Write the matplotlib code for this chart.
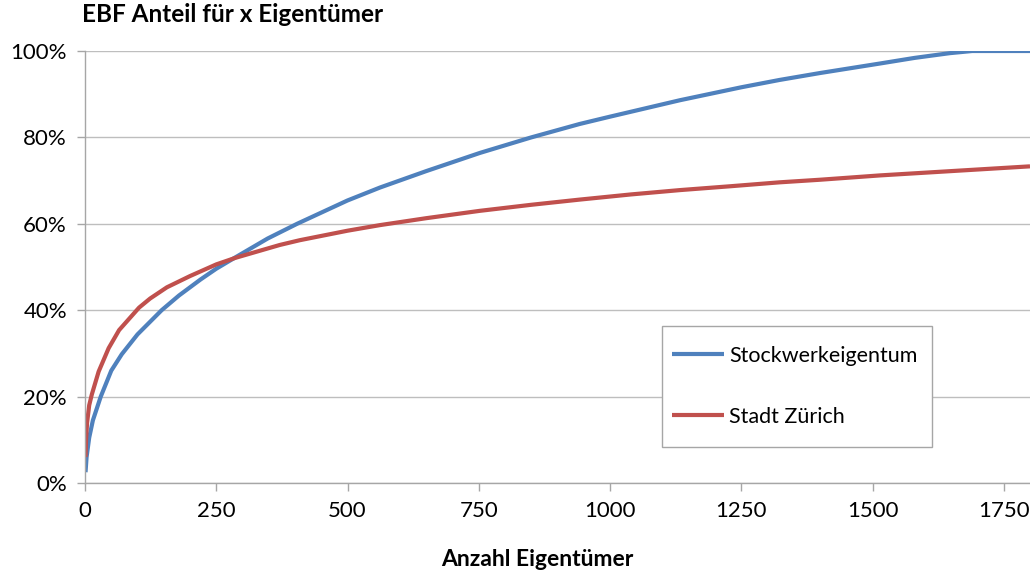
import matplotlib
matplotlib.use("Agg")
import matplotlib.pyplot as plt
from matplotlib.patches import Rectangle
from matplotlib.ticker import FuncFormatter

plt.rcParams['font.family'] = ['Lato', 'DejaVu Sans']

# Stockwerkeigentum (blau)
x_stwe = [1, 3, 8, 15, 30, 50, 70, 100, 146, 179, 220, 250, 286, 348, 404,
          500, 562, 650, 752, 850, 942, 1000, 1133, 1250, 1323, 1400, 1457,
          1514, 1580, 1647, 1690, 1800]
y_stwe = [2.5, 6.0, 10.5, 14.5, 20.0, 26.0, 29.8, 34.4, 40.0, 43.4, 47.1,
          49.6, 52.2, 56.6, 60.0, 65.4, 68.4, 72.2, 76.4, 80.0, 83.1, 84.8,
          88.6, 91.6, 93.3, 94.9, 96.0, 97.1, 98.4, 99.5, 100.0, 100.0]

# Stadt Zürich (rot)
x_stz = [1, 2, 4, 8, 13, 26, 45, 65, 103, 124, 156, 200, 250, 286, 371, 409,
         500, 562, 650, 752, 850, 942, 1040, 1133, 1230, 1323, 1400, 1457,
         1514, 1650, 1800]
y_stz = [6.0, 10.0, 14.0, 18.0, 20.5, 25.8, 31.2, 35.4, 40.6, 42.7, 45.3,
         47.9, 50.6, 52.1, 55.1, 56.2, 58.4, 59.7, 61.3, 63.0, 64.4, 65.6,
         66.8, 67.8, 68.7, 69.6, 70.2, 70.7, 71.2, 72.2, 73.3]

fig = plt.figure(figsize=(10.3, 5.74), dpi=100)
ax = fig.add_axes([85 / 1030, 1 - 483 / 574, 1 - 85 / 1030, (483 - 51) / 574])

ax.plot(x_stwe, [v / 100 for v in y_stwe], color='#4F81BD', lw=3,
        label='Stockwerkeigentum', solid_capstyle='butt')
ax.plot(x_stz, [v / 100 for v in y_stz], color='#C0504D', lw=3,
        label='Stadt Zürich', solid_capstyle='butt')

ax.set_xlim(0, 1800)
ax.set_ylim(0, 1)
ax.set_xticks(range(0, 1751, 250))
ax.set_yticks([0, 0.2, 0.4, 0.6, 0.8, 1.0])
ax.yaxis.set_major_formatter(FuncFormatter(lambda v, p: f"{v * 100:.0f}%"))

ax.grid(axis='y', color='#BEBEBE', lw=1)
ax.set_axisbelow(True)
for s in ['top', 'right']:
    ax.spines[s].set_visible(False)
for s in ['left', 'bottom']:
    ax.spines[s].set_color('#A6A6A6')
    ax.spines[s].set_linewidth(1)
ax.tick_params(axis='both', colors='#A6A6A6', labelcolor='black',
               labelsize=16, length=6, width=1)
ax.tick_params(axis='y', pad=7)
ax.tick_params(axis='x', pad=7)

fig.text(82 / 1030, 1 - 15 / 574, 'EBF Anteil für x Eigentümer',
         fontsize=17.5, fontweight='bold', va='center', ha='left')
fig.text(537 / 1030, 1 - 560 / 574, 'Anzahl Eigentümer',
         fontsize=16.5, fontweight='bold', va='center', ha='center')

# legend box
ax.add_patch(Rectangle((662 / 1030, 1 - 447 / 574), 270 / 1030, 121 / 574,
                       transform=fig.transFigure, facecolor='white',
                       edgecolor='#A6A6A6', lw=1, zorder=4, clip_on=False))
leg = ax.legend(loc='upper left', bbox_to_anchor=(672 / 1030, 1 - 346 / 574),
                bbox_transform=fig.transFigure, borderaxespad=0, borderpad=0,
                fontsize=15.5, frameon=False,
                handlelength=2.4, handletextpad=0.25, labelspacing=1.9)
leg.set_zorder(6)

fig.savefig('out.png', dpi=100)
